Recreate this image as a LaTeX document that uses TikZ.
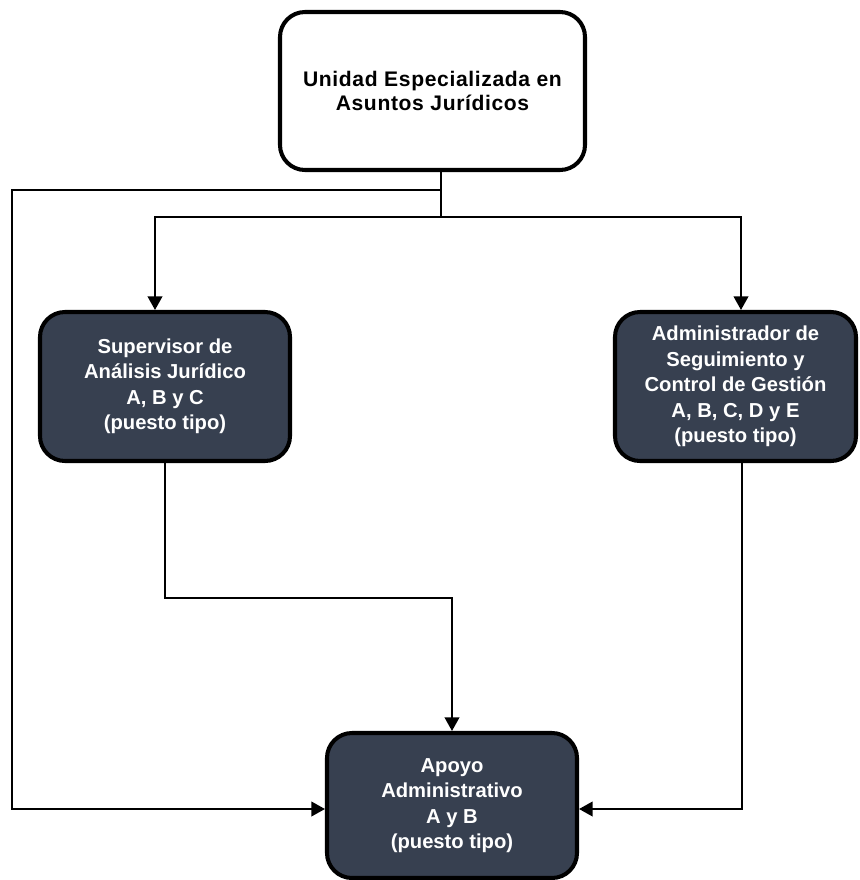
\documentclass[tikz,border=0pt]{standalone}
\usepackage{fontspec}
\setmainfont{Liberation Sans}
\usetikzlibrary{arrows.meta}
\definecolor{slate}{RGB}{55,64,80}
\tikzset{>={Triangle[length=0.27cm,width=0.29cm]},
  unitbox/.style={draw,line width=2.3pt,rounded corners=0.5cm,align=center,
    inner sep=0pt,font=\fontsize{11.5}{14.5}\selectfont\bfseries},
  headbox/.style={unitbox,fill=white,
    font=\fontsize{12}{13.5}\selectfont\bfseries\addfontfeatures{LetterSpace=3}},
  postbox/.style={unitbox,fill=slate,text=white},
  conn/.style={line width=1.1pt}
}

\begin{document}
\begin{tikzpicture}
  \useasboundingbox (0,0) rectangle (17.2,-17.6);
  \node[headbox,minimum width=6.1cm,minimum height=3.16cm] (uesaj) at (8.65,-1.82)
  {Unidad Especializada en\\Asuntos Jurídicos};
  \node[postbox,minimum width=5.0cm,minimum height=2.98cm] (sup) at (3.3,-7.73)
  {Supervisor de\\Análisis Jurídico\\A, B y C\\(puesto tipo)};
  \node[postbox,minimum width=4.82cm,minimum height=2.98cm] (adm) at (14.71,-7.73)
  {Administrador de\\Seguimiento y\\Control de Gestión\\A, B, C, D y E\\(puesto tipo)};
  \node[postbox,minimum width=5.0cm,minimum height=2.9cm] (apoyo) at (9.04,-16.11)
  {Apoyo\\Administrativo\\A y B\\(puesto tipo)};
  % bends
  \coordinate (split) at (8.82,-3.80);
  \coordinate (trunk) at (8.82,-4.34);
  \coordinate (farleft) at (0.24,-3.80);
  \coordinate (supin) at (3.10,0);
  \coordinate (admin) at (14.82,0);
  \coordinate (admout) at (14.84,0);
  \coordinate (midrow) at (9.04,-11.96);
  \coordinate (lowrow) at (0,-16.18);
  % Total
  \draw[conn] (uesaj.south -| trunk) -- (trunk);
  \draw[conn,->] (trunk) -| (sup.north -| supin);
  \draw[conn,->] (trunk) -| (adm.north -| admin);
  \draw[conn,->] (split) -- (farleft) |- (apoyo.west |- lowrow);
  \draw[conn,->] (sup.south) |- (midrow) -- (apoyo.north);
  \draw[conn,->] (adm.south -| admout) |- (apoyo.east |- lowrow);
\end{tikzpicture}
\end{document}
